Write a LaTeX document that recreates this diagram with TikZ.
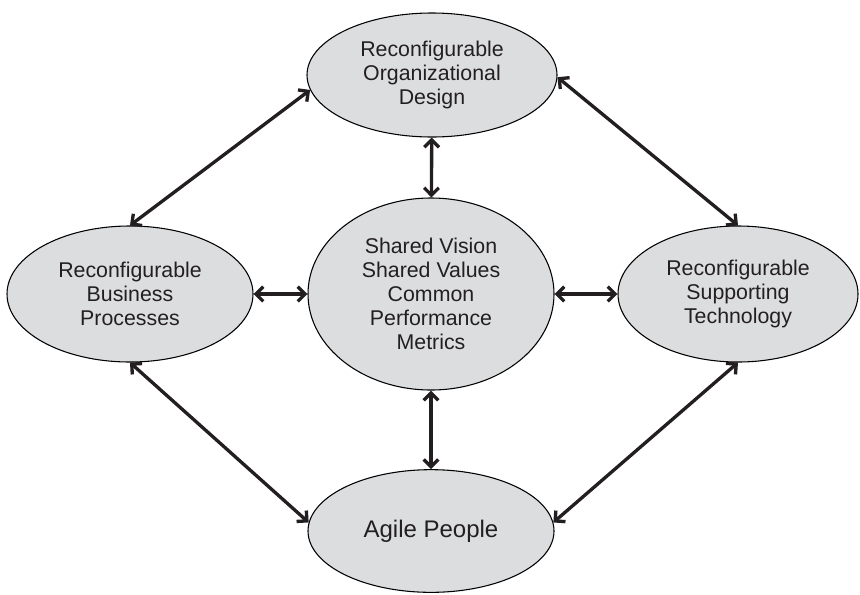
\documentclass[tikz,border=0pt]{standalone}
\usepackage{fontspec}
\setmainfont{Liberation Sans}
\usetikzlibrary{shapes.geometric,arrows.meta}
\definecolor{ellfill}{RGB}{220,221,223}
\definecolor{txt}{RGB}{35,31,32}
\begin{document}
\begin{tikzpicture}[x=0.75pt,y=-0.75pt,
  ell/.style={ellipse,draw=black,line width=0.8pt,fill=ellfill,inner sep=0pt,
    align=center,text=txt,font=\fontsize{16pt}{18pt}\selectfont},
  conn/.style={line width=2.5pt,draw=txt,{Straight Barb[length=5.5pt,width=11pt]}-{Straight Barb[length=5.5pt,width=11pt]}}]
\useasboundingbox (0,0) rectangle (860,594);
\node[ell,minimum width=187.5pt,minimum height=93pt] (top) at (432,75) {Reconfigurable\\Organizational\\Design};
\node[ell,minimum width=184.5pt,minimum height=102pt] (left) at (130,294) {Reconfigurable\\Business\\Processes};
\node[ell,minimum width=184.5pt,minimum height=144pt] (mid) at (431,294) {Shared Vision\\Shared Values\\Common\\Performance\\Metrics};
\node[ell,minimum width=180pt,minimum height=102pt] (right) at (738,294) {Reconfigurable\\Supporting\\Technology};
\node[ell,minimum width=184.5pt,minimum height=92pt,font=\fontsize{18pt}{21pt}\selectfont] (bot) at (431,531) {Agile People};
\draw[conn] (left.north) -- (top.187);
\draw[conn] (top.359) -- (right.north);
\draw[conn] (left.south) -- (bot.176);
\draw[conn] (right.south) -- (bot.4);
\draw[conn] (left) -- (mid);
\draw[conn] (mid) -- (right);
\draw[conn] (top) -- (mid);
\draw[conn] (mid) -- (bot);
\end{tikzpicture}
\end{document}
